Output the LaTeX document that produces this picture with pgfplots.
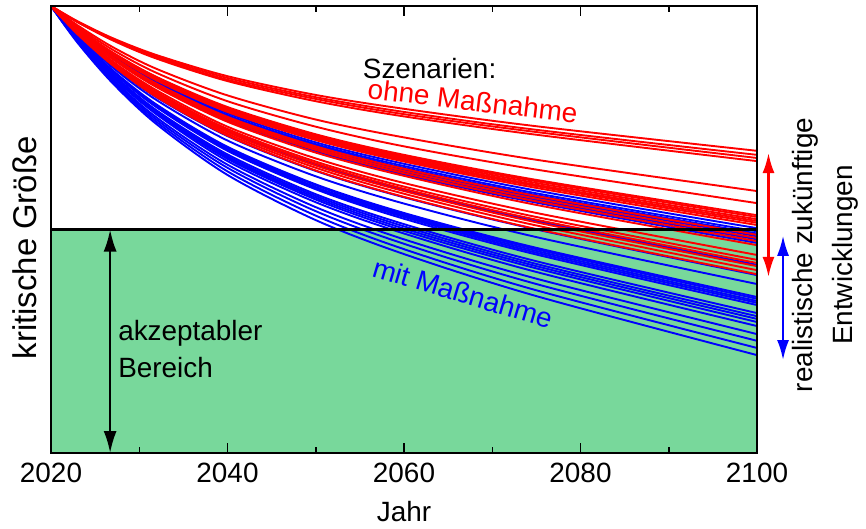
\documentclass[border=0pt]{standalone}
\usepackage{fontspec}
\setmainfont{Liberation Sans}
\usepackage{pgfplots}
\pgfplotsset{compat=1.18}
\usepackage{pgfplotstable}
\usetikzlibrary{arrows.meta}
\definecolor{accgreen}{HTML}{78D89B}
\newcommand\bigf{\fontsize{28}{34}\selectfont}

\pgfplotstableread{
x r1 r2 r3 r4 r5 r6 r7 r8 r9 r10 r11 r12 r13 r14 r15 r16 r17 r18 r19 r20 r21 r22
2020 1 1 1 1 1 1 1 1 1 1 1 1 1 1 1 1 1 1 1 1 1 1
2023 0.966 0.965 0.964 0.964 0.957 0.954 0.951 0.950 0.950 0.950 0.949 0.949 0.946 0.946 0.945 0.944 0.942 0.940 0.940 0.939 0.938 0.937
2027 0.928 0.926 0.925 0.923 0.908 0.902 0.896 0.895 0.894 0.893 0.892 0.891 0.886 0.885 0.883 0.881 0.876 0.874 0.872 0.871 0.869 0.867
2032 0.890 0.887 0.884 0.882 0.859 0.850 0.841 0.840 0.838 0.837 0.835 0.833 0.826 0.824 0.821 0.818 0.811 0.807 0.805 0.802 0.799 0.796
2040 0.843 0.839 0.835 0.832 0.800 0.787 0.774 0.772 0.769 0.767 0.765 0.763 0.752 0.749 0.745 0.741 0.730 0.725 0.722 0.718 0.714 0.710
2050 0.801 0.796 0.792 0.787 0.746 0.730 0.713 0.711 0.708 0.705 0.703 0.700 0.686 0.682 0.678 0.672 0.659 0.652 0.648 0.643 0.638 0.632
2060 0.770 0.763 0.758 0.753 0.706 0.686 0.667 0.664 0.661 0.658 0.655 0.652 0.636 0.631 0.626 0.620 0.604 0.596 0.591 0.586 0.580 0.573
2075 0.731 0.723 0.718 0.712 0.656 0.634 0.611 0.608 0.604 0.600 0.597 0.593 0.575 0.569 0.563 0.555 0.537 0.528 0.522 0.516 0.509 0.501
2100 0.676 0.667 0.660 0.653 0.586 0.559 0.532 0.528 0.523 0.519 0.515 0.510 0.488 0.481 0.474 0.465 0.443 0.432 0.425 0.418 0.409 0.400
}\redtab

\pgfplotstableread{
x b1 b2 b3 b4 b5 b6 b7 b8 b9 b10 b11 b12 b13 b14 b15 b16 b17 b18 b19 b20 b21 b22 b23
2020 1 1 1 1 1 1 1 1 1 1 1 1 1 1 1 1 1 1 1 1 1 1 1
2023 0.948 0.947 0.947 0.946 0.945 0.944 0.939 0.937 0.935 0.932 0.931 0.931 0.930 0.930 0.928 0.927 0.927 0.926 0.925 0.923 0.921 0.920 0.918
2027 0.890 0.888 0.887 0.886 0.884 0.882 0.871 0.866 0.862 0.856 0.855 0.854 0.853 0.852 0.848 0.846 0.845 0.843 0.841 0.837 0.834 0.830 0.827
2032 0.831 0.829 0.827 0.825 0.823 0.820 0.803 0.795 0.789 0.779 0.777 0.776 0.774 0.773 0.766 0.764 0.762 0.760 0.757 0.750 0.745 0.740 0.735
2040 0.760 0.756 0.754 0.751 0.747 0.744 0.720 0.709 0.699 0.685 0.683 0.681 0.679 0.676 0.668 0.664 0.661 0.658 0.653 0.645 0.638 0.630 0.622
2050 0.695 0.691 0.688 0.684 0.680 0.675 0.645 0.631 0.619 0.601 0.599 0.595 0.593 0.590 0.579 0.575 0.571 0.567 0.561 0.550 0.541 0.531 0.521
2060 0.647 0.642 0.638 0.634 0.629 0.623 0.588 0.572 0.558 0.537 0.534 0.531 0.528 0.524 0.512 0.507 0.502 0.497 0.491 0.478 0.468 0.456 0.445
2075 0.587 0.581 0.577 0.572 0.566 0.560 0.519 0.500 0.483 0.459 0.456 0.452 0.448 0.444 0.429 0.423 0.418 0.413 0.405 0.390 0.378 0.364 0.351
2100 0.503 0.496 0.491 0.485 0.478 0.470 0.421 0.398 0.378 0.349 0.345 0.340 0.336 0.331 0.313 0.306 0.300 0.293 0.284 0.266 0.251 0.235 0.219
}\bluetab

\begin{document}
\begin{tikzpicture}
\begin{axis}[
  width=706bp, height=447bp, scale only axis,
  xmin=2020, xmax=2100, ymin=0, ymax=1,
  clip=false, axis on top,
  axis line style={line width=1.8bp, black},
  xtick={2020,2040,2060,2080,2100},
  xticklabels={2020,2040,2060,2080,2100},
  minor xtick={2030,2050,2070,2090},
  ytick=\empty,
  tick align=inside, xtick pos=both, xticklabel pos=bottom,
  major tick length=10bp, minor tick length=6bp,
  every tick/.style={line width=1.5bp, black},
  minor tick style={line width=1.5bp, black},
  xticklabel style={font=\bigf, yshift=-6bp},
  xlabel={Jahr},
  xlabel style={font=\bigf, at={(axis description cs:0.5,-0.130)}, anchor=center},
  ylabel={kritische Größe},
  ylabel style={font=\fontsize{33}{38}\selectfont, at={(axis description cs:-0.0368,0.459)}, anchor=center},
]
\addplot[draw=none, fill=accgreen] coordinates {(2020,0.5) (2100,0.5)} \closedcycle;
\pgfplotsinvokeforeach{1,...,23}{
  \addplot[blue, line width=1.9bp, smooth] table[x=x, y=b#1]{\bluetab};
}
\pgfplotsinvokeforeach{1,...,22}{
  \addplot[red, line width=1.9bp, smooth] table[x=x, y=r#1]{\redtab};
}
\addplot[black, line width=2.2bp] coordinates {(2020,0.5) (2100,0.5)};

\draw[line width=2.2bp, {Latex[length=22bp,width=13bp]}-{Latex[length=22bp,width=13bp]}]
  (axis cs:2026.7,0.5) -- (axis cs:2026.7,0);
\draw[red, line width=2.2bp, {Latex[length=20bp,width=12bp]}-{Latex[length=20bp,width=12bp]}]
  (axis cs:2101.3,0.671) -- (axis cs:2101.3,0.394);
\draw[blue, line width=2.2bp, {Latex[length=20bp,width=12bp]}-{Latex[length=20bp,width=12bp]}]
  (axis cs:2102.95,0.486) -- (axis cs:2102.95,0.208);

\node[font=\bigf, anchor=center] at (axis cs:2062.9,0.861) {Szenarien:};
\node[font=\bigf, text=red, rotate=-6.8, anchor=center] at (axis cs:2067.8,0.788) {ohne Maßnahme};
\node[font=\bigf, text=blue, rotate=-16.5, anchor=center] at (axis cs:2066.7,0.358) {mit Maßnahme};
\node[font=\fontsize{28}{37}\selectfont, align=left, anchor=west, inner sep=0pt] at (axis cs:2027.6,0.232) {akzeptabler\\Bereich};
\node[font=\fontsize{28}{40}\selectfont, align=center, rotate=90, anchor=center] at (axis cs:2107.7,0.443) {realistische zukünftige\\Entwicklungen};

\coordinate (SW) at (rel axis cs:0,0);
\coordinate (NE) at (rel axis cs:1,1);
\end{axis}
\pgfresetboundingbox
\path ([shift={(-51bp,-75bp)}]SW) rectangle ([shift={(109bp,6bp)}]NE);
\end{tikzpicture}
\end{document}
